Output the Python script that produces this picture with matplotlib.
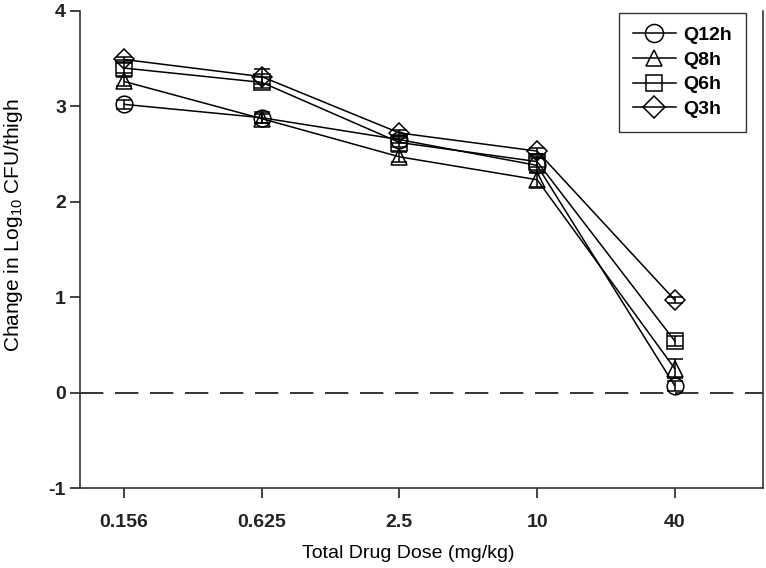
import matplotlib
matplotlib.use("Agg")
from matplotlib import pyplot as plt
from matplotlib.lines import Line2D

plt.rcParams['font.family'] = ['Liberation Sans', 'DejaVu Sans']
plt.rcParams['mathtext.fontset'] = 'custom'
plt.rcParams['mathtext.rm'] = 'Liberation Sans'
plt.rcParams['axes.unicode_minus'] = False

# Doses (categorical x axis)
doses = ["0.156", "0.625", "2.5", "10", "40"]

# Change in log10 CFU/thigh per dosing interval
q12h = [3.02, 2.88, 2.65, 2.38, 0.07]
q8h = [3.26, 2.87, 2.47, 2.23, 0.25]
q6h = [3.40, 3.25, 2.62, 2.42, 0.54]
q3h = [3.49, 3.31, 2.72, 2.53, 0.97]

# Error (SD)
q12h_err = [0.05, 0.06, 0.04, 0.08, 0.05]
q8h_err = [0.05, 0.05, 0.05, 0.08, 0.10]
q6h_err = [0.05, 0.06, 0.05, 0.06, 0.05]
q3h_err = [0.03, 0.08, 0.03, 0.03, 0.03]

series = [
    ("Q12h", q12h, q12h_err, "o", 12),
    ("Q8h", q8h, q8h_err, "^", 11),
    ("Q6h", q6h, q6h_err, "s", 11),
    ("Q3h", q3h, q3h_err, "D", 10),
]

fig = plt.figure(figsize=(7.66, 5.68), dpi=100)
ax = fig.add_axes([0.1044, 0.1408, 0.8916, 0.8402])

x = list(range(len(doses)))

# Plot each series
handles = []
for label, vals, err, marker, ms in series:
    ax.errorbar(x, vals, yerr=err, color="black", lw=1.1, marker=marker,
                ms=ms, mfc="none", mec="black", mew=1.1, capsize=6,
                elinewidth=1.1, capthick=1.1)
    handles.append(Line2D([], [], color="black", lw=1.1, marker=marker,
                          ms=ms + 1, mfc="none", mec="black", mew=1.1,
                          label=label))

# Zero reference line
ax.axhline(0, color="#333333", lw=1.4, dashes=(12, 6))

ax.set_xlim(-0.32, 4.64)
ax.set_ylim(-1, 4)
ax.set_xticks(x)
ax.set_xticklabels(doses)
ax.set_yticks([-1, 0, 1, 2, 3, 4])

for lab in ax.get_xticklabels() + ax.get_yticklabels():
    lab.set_fontweight("bold")
    lab.set_fontsize(14)

ax.tick_params(direction="out", length=7, width=1.2, colors="#222222")
ax.tick_params(axis="x", pad=12)
ax.tick_params(axis="y", pad=3)
ax.spines["top"].set_visible(False)
for s in ["left", "right", "bottom"]:
    ax.spines[s].set_linewidth(1.2)
    ax.spines[s].set_color("#333333")

ax.set_xlabel("Total Drug Dose (mg/kg)", fontsize=14)
ax.set_ylabel("Change in Log$_{10}$ CFU/thigh", fontsize=15)
ax.xaxis.set_label_coords(0.48, -0.119)
ax.yaxis.set_label_coords(-0.081, 0.55)

leg = ax.legend(handles=handles, loc="upper right",
                bbox_to_anchor=(746 / 766, 1 - 13 / 568),
                bbox_transform=fig.transFigure, borderaxespad=0,
                frameon=True, fancybox=False, edgecolor="black",
                fontsize=14, handlelength=2.2, labelspacing=0.36,
                borderpad=0.7, handletextpad=0.4)
leg.get_frame().set_linewidth(1.0)
for t in leg.get_texts():
    t.set_fontweight("bold")

plt.savefig("out.png", dpi=100)
